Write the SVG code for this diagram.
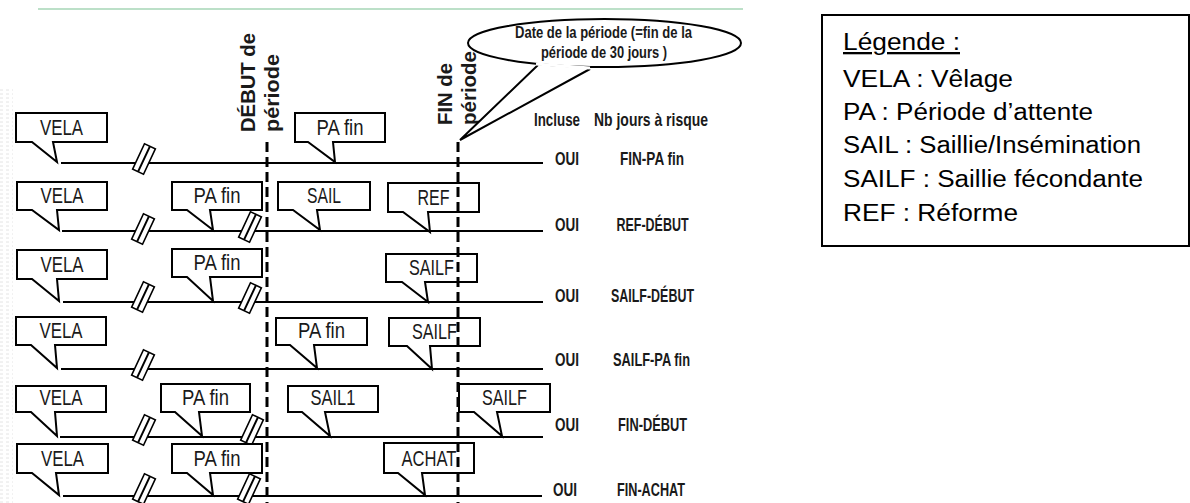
<svg xmlns="http://www.w3.org/2000/svg" width="1190" height="503" viewBox="0 0 1190 503">
<defs>
<style>
.co{fill:#fff;stroke:#000;stroke-width:2;stroke-linejoin:miter}
.ct{font-family:"Liberation Sans",Arial,sans-serif;font-size:22px;fill:#1a1a1a;text-anchor:middle}
.tl{stroke:#000;stroke-width:2;fill:none}
.dash{stroke:#000;stroke-width:3;stroke-dasharray:10 5;fill:none}
.bk{fill:#fff;stroke:#000;stroke-width:1.6}
.bl{stroke:#000;stroke-width:2}
.b{font-family:"Liberation Sans",Arial,sans-serif;font-weight:bold;fill:#1a1a1a}
.lab{font-size:18.5px}
.mid{text-anchor:middle}
.rot{font-size:19.5px}
.lg{font-family:"Liberation Sans",Arial,sans-serif;font-size:23px;fill:#000}
</style>
<pattern id="tex" width="6" height="4" patternUnits="userSpaceOnUse">
<path d="M0 2 h3" stroke="#e4e4e4" stroke-width="1"/>
</pattern>
<g id="brk">
<rect class="bk" x="-6" y="-14" width="12" height="28" transform="rotate(25)"/>
<line class="bl" x1="0" y1="-14" x2="0" y2="14" transform="rotate(25)"/>
</g>
</defs>

<rect x="0" y="88" width="13" height="415" fill="url(#tex)"/>
<line x1="38" y1="9" x2="743" y2="9" stroke="#a6d6b6" stroke-width="1.5"/>

<g id="connectors">
<line class="tl" x1="61" y1="163" x2="543" y2="163"/>
<line class="tl" x1="62" y1="231" x2="543" y2="231"/>
<line class="tl" x1="63" y1="302" x2="543" y2="302"/>
<line class="tl" x1="61" y1="369" x2="543" y2="369"/>
<line class="tl" x1="60" y1="437" x2="543" y2="437"/>
<line class="tl" x1="63" y1="496" x2="542" y2="496"/>
</g>

<g id="breaks">
<use href="#brk" x="144" y="159"/>
<use href="#brk" x="143" y="229"/>
<use href="#brk" x="250" y="227"/>
<use href="#brk" x="143" y="297"/>
<use href="#brk" x="250" y="298"/>
<use href="#brk" x="143" y="365"/>
<use href="#brk" x="144" y="430"/>
<use href="#brk" x="252" y="430"/>
<use href="#brk" x="144" y="489"/>
<use href="#brk" x="249" y="489"/>
</g>

<!-- Row 1 -->
<g id="r1-vela"><path class="co" d="M16 113H107V142H53L57 162L32 142H16Z"/><text class="ct" x="61.5" y="135" textLength="43" lengthAdjust="spacingAndGlyphs">VELA</text></g>
<g id="r1-pafin"><path class="co" d="M295 113H385V142H333L335 162L308 142H295Z"/><text class="ct" x="340" y="135" textLength="47" lengthAdjust="spacingAndGlyphs">PA fin</text></g>
<!-- Row 2 -->
<g id="r2-vela"><path class="co" d="M17 182H107V210H57L59 230L32 210H17Z"/><text class="ct" x="62" y="203" textLength="43" lengthAdjust="spacingAndGlyphs">VELA</text></g>
<g id="r2-pafin"><path class="co" d="M172 182H262V210H210L213 230L187 210H172Z"/><text class="ct" x="217" y="203" textLength="47" lengthAdjust="spacingAndGlyphs">PA fin</text></g>
<g id="r2-sail"><path class="co" d="M278 182H370V210H317L320 230L293 210H278Z"/><text class="ct" x="324" y="203" textLength="34" lengthAdjust="spacingAndGlyphs">SAIL</text></g>
<g id="r2-ref"><path class="co" d="M388 183H479V212H428L430 232L403 212H388Z"/><text class="ct" x="433.5" y="205" textLength="32" lengthAdjust="spacingAndGlyphs">REF</text></g>
<!-- Row 3 -->
<g id="r3-vela"><path class="co" d="M17 250H107V279H57L59 301L32 279H17Z"/><text class="ct" x="62" y="272" textLength="43" lengthAdjust="spacingAndGlyphs">VELA</text></g>
<g id="r3-pafin"><path class="co" d="M172 249H262V277H210L213 301L187 277H172Z"/><text class="ct" x="217" y="270" textLength="47" lengthAdjust="spacingAndGlyphs">PA fin</text></g>
<g id="r3-sailf"><path class="co" d="M386 254H477V282H425L428 302L402 282H386Z"/><text class="ct" x="431.5" y="275" textLength="45" lengthAdjust="spacingAndGlyphs">SAILF</text></g>
<!-- Row 4 -->
<g id="r4-vela"><path class="co" d="M16 317H106V345H55L57 368L31 345H16Z"/><text class="ct" x="61" y="338" textLength="43" lengthAdjust="spacingAndGlyphs">VELA</text></g>
<g id="r4-pafin"><path class="co" d="M276 318H367V345H314L317 368L290 345H276Z"/><text class="ct" x="321.5" y="338" textLength="47" lengthAdjust="spacingAndGlyphs">PA fin</text></g>
<g id="r4-sailf"><path class="co" d="M389 318H480V346H430L432 369L407 346H389Z"/><text class="ct" x="434.5" y="339" textLength="45" lengthAdjust="spacingAndGlyphs">SAILF</text></g>
<!-- Row 5 -->
<g id="r5-vela"><path class="co" d="M16 386H106V412H55L57 436L31 412H16Z"/><text class="ct" x="61" y="405" textLength="43" lengthAdjust="spacingAndGlyphs">VELA</text></g>
<g id="r5-pafin"><path class="co" d="M161 384H250V412H199L202 436L175 412H161Z"/><text class="ct" x="205.5" y="405" textLength="47" lengthAdjust="spacingAndGlyphs">PA fin</text></g>
<g id="r5-sail1"><path class="co" d="M288 386H378V412H325L330 436L302 412H288Z"/><text class="ct" x="333" y="405" textLength="45" lengthAdjust="spacingAndGlyphs">SAIL1</text></g>
<g id="r5-sailf"><path class="co" d="M459 384H550V412H497L502 436L474 412H459Z"/><text class="ct" x="504.5" y="405" textLength="45" lengthAdjust="spacingAndGlyphs">SAILF</text></g>
<!-- Row 6 -->
<g id="r6-vela"><path class="co" d="M17 444H108V473H56L59 495L32 473H17Z"/><text class="ct" x="62.5" y="466" textLength="43" lengthAdjust="spacingAndGlyphs">VELA</text></g>
<g id="r6-pafin"><path class="co" d="M172 444H262V473H210L213 495L187 473H172Z"/><text class="ct" x="217" y="466" textLength="47" lengthAdjust="spacingAndGlyphs">PA fin</text></g>
<g id="r6-achat"><path class="co" d="M384 443H474V473H422L425 495L398 473H384Z"/><text class="ct" x="429" y="466" textLength="55" lengthAdjust="spacingAndGlyphs">ACHAT</text></g>

<g id="period-lines">
<line class="dash" x1="267" y1="142" x2="267" y2="503"/>
<line class="dash" x1="458" y1="142" x2="458" y2="503"/>
</g>

<g id="period-labels">
<text class="b rot" transform="translate(255 132) rotate(-90)" textLength="99" lengthAdjust="spacingAndGlyphs">DÉBUT de</text>
<text class="b rot" transform="translate(279 132) rotate(-90)" textLength="78" lengthAdjust="spacingAndGlyphs">période</text>
<text class="b rot" transform="translate(452 125) rotate(-90)" textLength="62" lengthAdjust="spacingAndGlyphs">FIN de</text>
<text class="b rot" transform="translate(476 125) rotate(-90)" textLength="74" lengthAdjust="spacingAndGlyphs">période</text>
</g>

<g id="date-callout">
<path d="M538 65 L460 140 L590 69" fill="#fff" stroke="#000" stroke-width="2" stroke-linejoin="miter"/>
<ellipse cx="604.5" cy="43" rx="136.5" ry="24" fill="#fff" stroke="#000" stroke-width="2"/>
<path d="M536 64 L590 68" stroke="#fff" stroke-width="3"/>
<text class="b mid" x="603.5" y="38" font-size="16" textLength="177" lengthAdjust="spacingAndGlyphs">Date de la période (=fin de la</text>
<text class="b mid" x="604" y="58" font-size="16" textLength="126" lengthAdjust="spacingAndGlyphs">période de 30 jours )</text>
</g>

<g id="table">
<text class="b lab" x="534" y="126" textLength="46" lengthAdjust="spacingAndGlyphs">Incluse</text>
<text class="b lab" x="594" y="126" textLength="114" lengthAdjust="spacingAndGlyphs">Nb jours à risque</text>
<text class="b lab" x="555" y="165" textLength="24" lengthAdjust="spacingAndGlyphs">OUI</text>
<text class="b lab mid" x="652" y="165" textLength="64" lengthAdjust="spacingAndGlyphs">FIN-PA fin</text>
<text class="b lab" x="555" y="231" textLength="24" lengthAdjust="spacingAndGlyphs">OUI</text>
<text class="b lab mid" x="652.5" y="231" textLength="72" lengthAdjust="spacingAndGlyphs">REF-DÉBUT</text>
<text class="b lab" x="555" y="302" textLength="24" lengthAdjust="spacingAndGlyphs">OUI</text>
<text class="b lab mid" x="652.5" y="302" textLength="83" lengthAdjust="spacingAndGlyphs">SAILF-DÉBUT</text>
<text class="b lab" x="555" y="366" textLength="24" lengthAdjust="spacingAndGlyphs">OUI</text>
<text class="b lab mid" x="651.5" y="366" textLength="77" lengthAdjust="spacingAndGlyphs">SAILF-PA fin</text>
<text class="b lab" x="555" y="431" textLength="24" lengthAdjust="spacingAndGlyphs">OUI</text>
<text class="b lab mid" x="652.5" y="431" textLength="69" lengthAdjust="spacingAndGlyphs">FIN-DÉBUT</text>
<text class="b lab" x="553" y="496" textLength="24" lengthAdjust="spacingAndGlyphs">OUI</text>
<text class="b lab mid" x="651" y="496" textLength="68" lengthAdjust="spacingAndGlyphs">FIN-ACHAT</text>
</g>

<g id="legend">
<rect x="822" y="15" width="367" height="231" fill="#fff" stroke="#000" stroke-width="2"/>
<text class="lg" x="843" y="50" textLength="117" lengthAdjust="spacingAndGlyphs" text-decoration="underline">Légende :</text>
<text class="lg" x="843" y="87" textLength="170" lengthAdjust="spacingAndGlyphs">VELA : Vêlage</text>
<text class="lg" x="843" y="120" textLength="250" lengthAdjust="spacingAndGlyphs">PA : Période d’attente</text>
<text class="lg" x="843" y="153" textLength="298" lengthAdjust="spacingAndGlyphs">SAIL : Saillie/Insémination</text>
<text class="lg" x="843" y="187" textLength="300" lengthAdjust="spacingAndGlyphs">SAILF : Saillie fécondante</text>
<text class="lg" x="843" y="221" textLength="175" lengthAdjust="spacingAndGlyphs">REF : Réforme</text>
</g>
</svg>
